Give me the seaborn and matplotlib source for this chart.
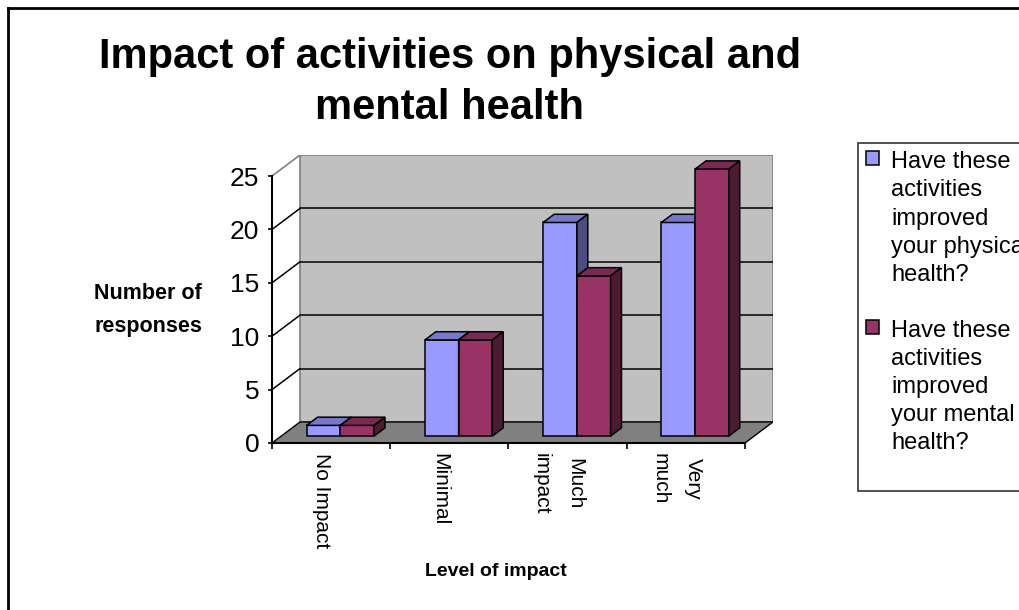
import matplotlib
matplotlib.use("Agg")
import matplotlib.pyplot as plt
from matplotlib.patches import Polygon, Rectangle
from matplotlib.lines import Line2D
from matplotlib.offsetbox import HPacker
import numpy as np
import pandas as pd
import seaborn as sns

# ---- data -------------------------------------------------------------
levels = ["No Impact", "Minimal", "Much\nimpact", "Very\nmuch"]
physical = [1, 9, 20, 20]
mental = [1, 9, 15, 25]
series_names = [
    "Have these\nactivities\nimproved\nyour physical\nhealth?",
    "Have these\nactivities\nimproved\nyour mental\nhealth?",
]
y_ticks = [0, 5, 10, 15, 20, 25]

# ---- style ------------------------------------------------------------
sns.set_theme(style="white")
plt.rcParams["font.family"] = ["Liberation Sans", "DejaVu Sans"]
for key in ["text.color", "axes.labelcolor", "xtick.color", "ytick.color"]:
    plt.rcParams[key] = "black"

front_colors = ["#9999FF", "#993366"]
top_colors = ["#7777CC", "#7A2952"]
side_colors = ["#4D4D80", "#4D1A33"]
wall_color = "#C0C0C0"
floor_color = "#808080"
edge_gray = "#808080"

W, H = 1020, 610
fig = plt.figure(figsize=(W / 100, H / 100), dpi=100)
fig.patch.set_facecolor("white")

# oblique depth of the pseudo-3D box, in data units (categories, responses)
DX, DY = 0.237, 1.97
YMAX = 25
ax = fig.add_axes([272 / W, (H - 443) / H, 501 / W, 288 / H])
ax.set_facecolor("none")

df = pd.DataFrame({
    "level": levels * 2,
    "responses": physical + mental,
    "question": [series_names[0]] * len(levels) + [series_names[1]] * len(levels),
})

sns.barplot(data=df, x="level", y="responses", hue="question",
            palette=front_colors, saturation=1, width=0.57, gap=0,
            errorbar=None, edgecolor="black", linewidth=1.1, ax=ax)

ax.set_xlim(-0.5, len(levels) - 0.5 + DX)
ax.set_ylim(0, YMAX + DY)

# ---- box: back wall, side grid, floor ---------------------------------
x0, x1 = -0.5, len(levels) - 0.5
ax.add_patch(Rectangle((x0 + DX, DY), x1 - x0, YMAX, facecolor=wall_color,
                       edgecolor=edge_gray, linewidth=1.2, zorder=0.5))
for v in y_ticks[1:-1]:
    ax.plot([x0 + DX, x1 + DX], [v + DY, v + DY], color="black", lw=1.1, zorder=0.8)
    ax.plot([x0, x0 + DX], [v, v + DY], color="black", lw=1.1, zorder=0.8)
ax.plot([x0, x0 + DX], [YMAX, YMAX + DY], color=edge_gray, lw=1.2, zorder=0.8)
ax.add_patch(Polygon([(x0, 0), (x1, 0), (x1 + DX, DY), (x0 + DX, DY)],
                     closed=True, facecolor=floor_color, edgecolor="black",
                     linewidth=1.0, zorder=1))

# ---- extrude the seaborn bars -----------------------------------------
F0, FD = 0.33, 0.39  # depth position and thickness of the bars
for j, cont in enumerate(ax.containers):
    for i, p in enumerate(cont.patches):
        z = 3 + (i * 2 + j) * 0.01
        p.set_x(p.get_x() + F0 * DX)
        p.set_y(p.get_y() + F0 * DY)
        p.set_zorder(z)
        x, y, w, h = p.get_x(), p.get_y(), p.get_width(), p.get_height()
        ddx, ddy = FD * DX, FD * DY
        top = Polygon([(x, y + h), (x + w, y + h), (x + w + ddx, y + h + ddy),
                       (x + ddx, y + h + ddy)], closed=True,
                      facecolor=top_colors[j], edgecolor="black", lw=1.1, zorder=z)
        side = Polygon([(x + w, y), (x + w + ddx, y + ddy),
                        (x + w + ddx, y + h + ddy), (x + w, y + h)], closed=True,
                       facecolor=side_colors[j], edgecolor="black", lw=1.1, zorder=z)
        ax.add_patch(top)
        ax.add_patch(side)

# ---- axes, ticks, labels ----------------------------------------------
for s in ["top", "right"]:
    ax.spines[s].set_visible(False)
ax.spines["left"].set_bounds(0, YMAX)
ax.spines["bottom"].set_bounds(x0, x1)
for s in ["left", "bottom"]:
    ax.spines[s].set_color("black")
    ax.spines[s].set_linewidth(1.5)
    ax.spines[s].set_zorder(6)

ax.set_yticks(y_ticks)
ax.set_yticklabels([str(t) for t in y_ticks], fontsize=19)
ax.tick_params(axis="y", direction="out", length=3, width=1.2, pad=6,
               colors="black", left=True)
# category labels sit slightly left of the slot centres
ax.set_xticks(np.arange(len(levels)) - 0.08)
ax.set_xticklabels(levels, fontsize=15, rotation=270, va="top", ha="center",
                   linespacing=1.95)
ax.set_xticks(np.arange(x0, x1 + 0.01, 1.0), minor=True)
ax.tick_params(axis="x", which="major", length=0, pad=7, colors="black")
ax.tick_params(axis="x", which="minor", direction="out", length=4.5, width=1.2,
               colors="black", bottom=True)

ax.set_xlabel("Level of impact", fontsize=14, fontweight="bold", va="center")
ax.xaxis.set_label_coords((496 - 272) / 501, (443 - 571) / 288)
ax.set_ylabel("Number of\nresponses", fontsize=15.5, fontweight="bold",
              rotation=0, ha="center", va="center", linespacing=1.7)
ax.yaxis.set_label_coords((148 - 272) / 501, (443 - 310) / 288)

fig.text(450 / W, 1 - 37 / H, "Impact of activities on physical and\nmental health",
         fontsize=30, fontweight="bold", ha="center", va="top",
         multialignment="center", linespacing=1.35)

# ---- legend -----------------------------------------------------------
handles, labels = ax.get_legend_handles_labels()
if ax.get_legend() is not None:
    ax.get_legend().remove()
labels = list(labels)
labels[-1] = labels[-1] + "\n"  # leaves room under the last entry
leg = fig.legend(handles, labels, loc="upper left",
                 bbox_to_anchor=(858 / W, 1 - 143 / H), borderaxespad=0,
                 fontsize=17, frameon=True, fancybox=False, shadow=False,
                 borderpad=0.35, handlelength=0.55, handleheight=0.55,
                 handletextpad=0.5, labelspacing=1.45)
leg.get_frame().set_edgecolor("black")
leg.get_frame().set_linewidth(1.2)
for t in leg.get_texts():
    t.set_linespacing(1.36)
    t.set_color("black")


def _align_top(box):
    for child in box.get_children():
        if isinstance(child, HPacker):
            child.align = "top"
        _align_top(child)


_align_top(leg._legend_handle_box)

# chart frame: left and top edges (the rest runs past the canvas)
fig.add_artist(Line2D([8 / W, 8 / W], [0, 1 - 8 / H], transform=fig.transFigure,
                      color="black", lw=2, solid_capstyle="projecting"))
fig.add_artist(Line2D([8 / W, 1], [1 - 8 / H, 1 - 8 / H], transform=fig.transFigure,
                      color="black", lw=2, solid_capstyle="projecting"))

fig.savefig("out.png", dpi=100)
